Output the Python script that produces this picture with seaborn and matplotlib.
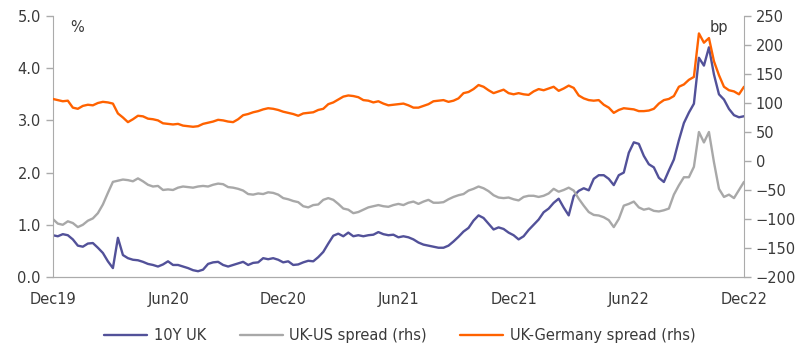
import matplotlib
matplotlib.use("Agg")
import matplotlib.pyplot as plt
import matplotlib.dates as mdates
import seaborn as sns
import pandas as pd

# 8-day sampling, Dec 2019 - Dec 2022
dates = pd.date_range("2019-12-01", "2022-12-01", periods=139)

# 10Y UK gilt yield (%), left axis
uk_10y = [
    0.80, 0.78, 0.82, 0.80, 0.72, 0.60, 0.58, 0.64, 0.65, 0.56, 0.46, 0.30, 0.17, 0.75, 0.42, 0.36, 0.33, 0.32, 0.29, 0.25, 0.23, 0.20, 0.24,
    0.30, 0.23, 0.23, 0.20, 0.17, 0.13, 0.11, 0.14, 0.25, 0.28, 0.29, 0.23, 0.20, 0.23, 0.26, 0.29, 0.23, 0.27, 0.28, 0.36, 0.34, 0.36, 0.33,
    0.28, 0.30, 0.23, 0.24, 0.28, 0.31, 0.30, 0.38, 0.48, 0.64, 0.79, 0.83, 0.78, 0.85, 0.78, 0.80, 0.78, 0.80, 0.81, 0.86, 0.82, 0.80, 0.81,
    0.76, 0.78, 0.76, 0.72, 0.66, 0.62, 0.60, 0.58, 0.56, 0.56, 0.60, 0.68, 0.77, 0.87, 0.94, 1.08, 1.18, 1.13, 1.02, 0.91, 0.95, 0.92, 0.85,
    0.80, 0.72, 0.78, 0.90, 1.00, 1.10, 1.24, 1.31, 1.42, 1.50, 1.33, 1.18, 1.55, 1.65, 1.70, 1.66, 1.88, 1.95, 1.95, 1.88, 1.76, 1.95, 2.00,
    2.38, 2.58, 2.55, 2.32, 2.16, 2.10, 1.90, 1.82, 2.04, 2.25, 2.62, 2.95, 3.15, 3.32, 4.20, 4.05, 4.40, 3.88, 3.50, 3.40, 3.22, 3.10, 3.06, 3.08,
]

# UK-US 10Y spread (bp), right axis
uk_us = [
    -100, -108, -110, -104, -107, -114, -110, -103, -99, -90, -75, -55, -36, -34, -32, -33, -35, -30, -35, -41, -44, -43, -50,
    -49, -50, -46, -44, -45, -46, -44, -43, -44, -41, -39, -40, -45, -46, -48, -51, -57, -58, -56, -57, -54, -55, -58,
    -64, -66, -69, -71, -78, -80, -76, -75, -67, -64, -67, -74, -82, -84, -90, -88, -84, -80, -78, -76, -78, -79, -76,
    -74, -76, -72, -70, -74, -70, -67, -72, -72, -71, -66, -62, -59, -57, -51, -48, -44, -47, -52, -59, -63, -64, -63,
    -66, -68, -62, -60, -60, -62, -60, -56, -48, -53, -50, -46, -51, -65, -77, -88, -93, -94, -97, -102, -114, -100, -77,
    -74, -70, -80, -84, -82, -86, -87, -85, -82, -58, -42, -28, -28, -10, 50, 32, 50, -2, -48, -62, -58, -64, -50, -36,
]

# UK-Germany 10Y spread (bp), right axis
uk_de = [
    107, 105, 103, 104, 92, 90, 95, 97, 96, 100, 102, 101, 99, 82, 75, 67, 72, 78, 77, 73, 72, 70, 65,
    64, 63, 64, 61, 60, 59, 60, 64, 66, 68, 71, 70, 68, 67, 72, 79, 81, 84, 86, 89, 91, 90, 88,
    85, 83, 81, 78, 82, 83, 84, 88, 90, 98, 101, 106, 111, 113, 112, 110, 105, 104, 101, 103, 99, 96, 97,
    98, 99, 96, 92, 92, 95, 98, 103, 104, 105, 102, 104, 108, 117, 119, 124, 131, 128, 122, 117, 120, 123, 117,
    115, 117, 115, 114, 120, 124, 122, 125, 128, 121, 125, 130, 126, 113, 108, 105, 104, 105, 97, 92, 83, 88, 91,
    90, 89, 86, 86, 87, 90, 99, 105, 107, 112, 128, 132, 140, 145, 220, 204, 212, 172, 148, 128, 122, 120, 115, 128,
]

df = pd.DataFrame({"date": dates, "uk_10y": uk_10y, "uk_us": uk_us, "uk_de": uk_de})

sns.set_style("white")
plt.rcParams["font.family"] = ["DejaVu Sans"]

text_col = "#3a3a3a"
spine_col = "#ABABAB"

fig = plt.figure(figsize=(8, 3.56), dpi=100)
ax = fig.add_axes([0.066, 0.222, 0.864, 0.733])
ax2 = ax.twinx()

sns.lineplot(data=df, x="date", y="uk_10y", ax=ax, color="#525199", lw=1.7, label="10Y UK", legend=False)
sns.lineplot(data=df, x="date", y="uk_us", ax=ax2, color="#A8A8A8", lw=1.7, label="UK-US spread (rhs)", legend=False)
sns.lineplot(data=df, x="date", y="uk_de", ax=ax2, color="#FF6200", lw=1.7, label="UK-Germany spread (rhs)", legend=False)

ax.set_xlim(pd.Timestamp("2019-12-01"), pd.Timestamp("2022-12-01"))
ax.set_ylim(0, 5)
ax2.set_ylim(-200, 250)
ax.set_yticks([0, 1, 2, 3, 4, 5])
ax.yaxis.set_major_formatter(matplotlib.ticker.FormatStrFormatter("%.1f"))
ax2.set_yticks(range(-200, 251, 50))

ax.xaxis.set_major_locator(mdates.MonthLocator(bymonth=[6, 12]))
ax.xaxis.set_major_formatter(mdates.DateFormatter("%b%y"))

for a in (ax, ax2):
    a.set_xlabel("")
    a.set_ylabel("")
    a.spines["top"].set_visible(False)
    for s in ("left", "right", "bottom"):
        a.spines[s].set_color(spine_col)
    a.tick_params(colors=spine_col, labelcolor=text_col, labelsize=10.5, length=5, width=1)
ax.spines["right"].set_visible(False)
ax2.spines["left"].set_visible(False)
ax.tick_params(axis="x", pad=6)

ax.text(0.025, 0.985, "%", transform=ax.transAxes, color=text_col, fontsize=10.5, va="top")
ax2.text(0.977, 0.985, "bp", transform=ax2.transAxes, color=text_col, fontsize=10.5, va="top", ha="right")

handles = ax.get_lines()[:1] + ax2.get_lines()[:2]
fig.legend(handles, [h.get_label() for h in handles], loc="lower center", ncol=3,
           bbox_to_anchor=(0.5, 0.0), frameon=False, fontsize=10.5, labelcolor=text_col,
           handlelength=2.95, handletextpad=0.45, columnspacing=2.3)

fig.savefig("out.png", dpi=100)
